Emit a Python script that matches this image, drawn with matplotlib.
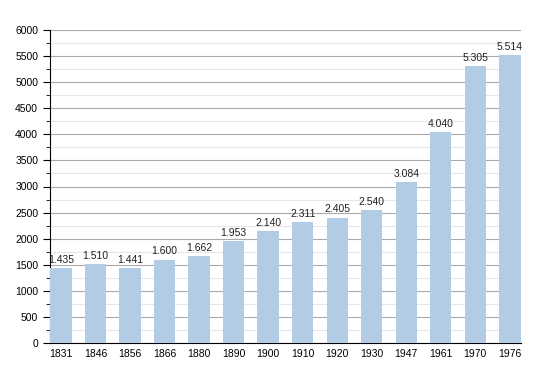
import numpy as np
import matplotlib.pyplot as plt
from matplotlib.ticker import MultipleLocator

plt.rcParams['font.family'] = ['Liberation Sans', 'DejaVu Sans']

# Данные
years = ['1831', '1846', '1856', '1866', '1880', '1890', '1900',
         '1910', '1920', '1930', '1947', '1961', '1970', '1976']
population = [1435, 1510, 1441, 1600, 1662, 1953, 2140,
              2311, 2405, 2540, 3084, 4040, 5305, 5514]
labels = ['1.435', '1.510', '1.441', '1.600', '1.662', '1.953', '2.140',
          '2.311', '2.405', '2.540', '3.084', '4.040', '5.305', '5.514']

fig = plt.figure(figsize=(5.5, 3.73), dpi=100)
ax = fig.add_axes([0.091, 0.0804, 0.856, 0.8392])

x = np.arange(len(years))
ax.bar(x, population, width=0.62, color='#b3cce6', zorder=3)

for xi, v, lab in zip(x, population, labels):
    ax.text(xi, v + 60, lab, ha='center', va='bottom', fontsize=7.5, color='#222222')

ax.set_xlim(-0.32, len(years) - 1 + 0.32)
ax.set_ylim(0, 6000)
ax.set_xticks(x)
ax.set_xticklabels(years)
ax.yaxis.set_major_locator(MultipleLocator(500))
ax.yaxis.set_minor_locator(MultipleLocator(250))

ax.grid(axis='y', which='major', color='#aaaaaa', linewidth=0.8, zorder=0)
ax.grid(axis='y', which='minor', color='#e6e6e6', linewidth=0.8, zorder=0)

for s in ['top', 'right']:
    ax.spines[s].set_visible(False)
ax.spines['left'].set_color('black')
ax.spines['bottom'].set_color('black')
ax.tick_params(axis='x', length=0, labelsize=7.5, pad=4)
ax.tick_params(axis='y', which='major', length=5, labelsize=7.5, direction='out')
ax.tick_params(axis='y', which='minor', length=3, direction='out')

plt.savefig('out.png', dpi=100)
